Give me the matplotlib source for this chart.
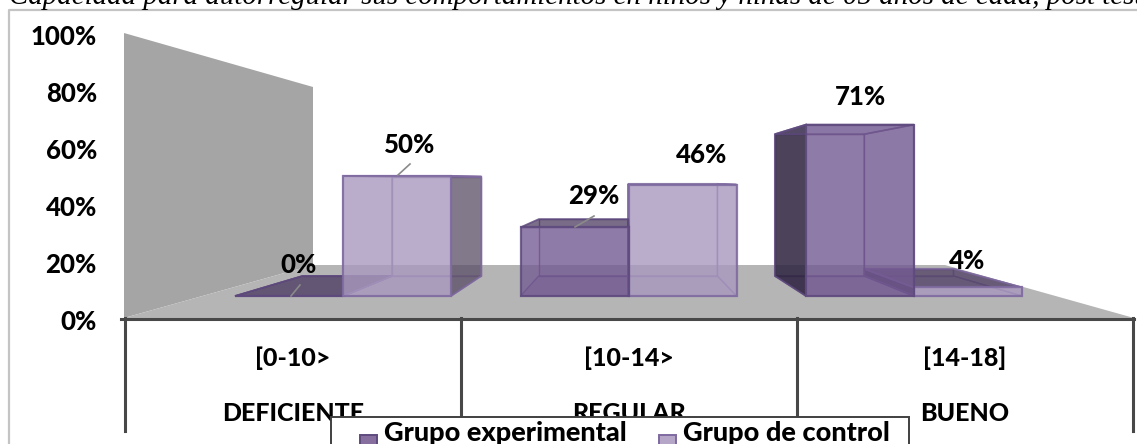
import matplotlib
matplotlib.use('Agg')
import matplotlib.pyplot as plt
from matplotlib.colors import to_rgba
from matplotlib.patches import Polygon, Rectangle

categories = ['[0-10>', '[10-14>', '[14-18]']
levels = ['DEFICIENTE', 'REGULAR', 'BUENO']
experimental = [0, 28.6, 71.4]
control = [50, 46.4, 3.6]
y_ticks = [0, 20, 40, 60, 80, 100]
series_names = ['Grupo experimental', 'Grupo de control']

FONT = 'Lato'
EXP_COLOR = '#735a92'
CTRL_COLOR = '#a999be'
EDGE_EXP = '#5f4a7e'
EDGE_CTRL = '#7f6aa0'

# perspective of the 3d box, in pixels
EYE_X, EYE_Y = 626, 180
DEPTH = 0.173
FLOOR_Y = 296
PX_PER_PCT = 2.4
BAR_W = 108
GROUP_X = [343, 628.5, 914]


def back(x, y):
    return x + DEPTH * (EYE_X - x), y + DEPTH * (EYE_Y - y)


def face(ax, pts, color, alpha, edge, z, lw=1.3):
    ax.add_patch(Polygon(pts, closed=True, facecolor=to_rgba(color, alpha),
                         edgecolor=to_rgba(edge, 0.85), linewidth=lw, zorder=z))


def draw_box(ax, x0, x1, value, color, edge, z):
    top = FLOOR_Y - value * PX_PER_PCT
    fl, fr = (x0, FLOOR_Y), (x1, FLOOR_Y)
    tl, tr = (x0, top), (x1, top)
    bl, br = back(*fl), back(*fr)
    btl, btr = back(*tl), back(*tr)
    # floor and back first, the front goes over them
    face(ax, [fl, fr, br, bl], color, 0.3, edge, z, 1.0)
    face(ax, [bl, br, btr, btl], color, 0.08, edge, z, 1.0)
    # side faces: the one away from the eye comes out dark
    if x1 < EYE_X:
        face(ax, [fr, br, btr, tr], '#5a4f66', 0.75, edge, z)
    if x0 > EYE_X:
        face(ax, [fl, bl, btl, tl], '#2e2440', 0.85, edge, z)
    if x0 < EYE_X < x1 or x0 >= EYE_X:
        face(ax, [fr, br, btr, tr], color, 0.15, edge, z, 1.0)
    if x1 <= EYE_X:
        face(ax, [fl, bl, btl, tl], color, 0.08, edge, z, 1.0)
    face(ax, [tl, tr, btr, btl], '#4f3f63' if value < 40 else color,
         0.75 if value < 40 else 0.2, edge, z)
    face(ax, [fl, fr, tr, tl], color, 0.78, edge, z + 0.5, 1.6)


fig = plt.figure(figsize=(11.37, 4.44), dpi=100)
ax = fig.add_axes([0, 0, 1, 1])
ax.set_xlim(0, 1137)
ax.set_ylim(444, 0)
ax.axis('off')

# chart border
ax.plot([1137, 8.5, 8.5], [10.5, 10.5, 444], color='#c4c4c4', lw=1.6, zorder=1)

# wall and floor
ax.add_patch(Polygon([(124, 33), (313, 87), (313, 265), (124, 318)],
                     facecolor='#a5a5a5', edgecolor='none', zorder=1))
ax.add_patch(Polygon([(124, 318), (313, 265), (945, 265), (1134, 318)],
                     facecolor='#b5b5b5', edgecolor='none', zorder=1))

# axis and category dividers
ax.plot([121, 1134], [318.5, 318.5], color='#484848', lw=2.2, zorder=3)
for x in [125, 461, 797, 1133]:
    ax.plot([x, x], [318, 431], color='#484848', lw=2.2, zorder=3)

for v in y_ticks:
    ax.text(97, 322 - v * 2.85, f'{v}%', ha='right', va='center', family=FONT,
            fontweight='black', fontsize=18.5, color='black', zorder=5)

for i in range(len(categories)):
    gx = GROUP_X[i]
    if gx < EYE_X:
        order = [(control, CTRL_COLOR, EDGE_CTRL, gx, 1), (experimental, EXP_COLOR, EDGE_EXP, gx - BAR_W, 0)]
    else:
        order = [(control, CTRL_COLOR, EDGE_CTRL, gx, 0), (experimental, EXP_COLOR, EDGE_EXP, gx - BAR_W, 1)]
    for vals, col, edge, x0, z in order:
        draw_box(ax, x0, x0 + BAR_W, vals[i], col, edge, 4 + 2 * i + z)
    cx = 293 + i * 336
    ax.text(cx, 358, categories[i], ha='center', va='center', family=FONT,
            fontweight='black', fontsize=18, color='black', zorder=5)
    ax.text(cx, 413, levels[i], ha='center', va='center', family=FONT,
            fontweight='black', fontsize=18, color='black', zorder=5)

# data labels
label_x = [[299, 594, 860], [410, 702, 967]]
label_y = [[265, 196, 97], [145, 155, 261]]
for s, vals in enumerate([experimental, control]):
    for i, v in enumerate(vals):
        ax.text(label_x[s][i], label_y[s][i], f'{v:.0f}%', ha='center', va='center',
                family=FONT, fontweight='black', fontsize=18.5, color='black', zorder=20)

# leader lines
for xs, ys in [([291, 300], [296, 285]), ([398, 410], [175, 164]), ([575, 594], [227, 216])]:
    ax.plot(xs, ys, color='#8a8a8a', lw=1.2, zorder=19)

# legend, cut by the bottom of the picture
ax.add_patch(Rectangle((331, 417), 578, 40, facecolor='white', edgecolor='#404040',
                       lw=1.4, zorder=30))
for x, name, col, edge in [(360, series_names[0], '#866f9e', EDGE_EXP),
                           (659, series_names[1], '#b5a6c8', EDGE_CTRL)]:
    ax.add_patch(Rectangle((x, 435), 17, 20, facecolor=col, edgecolor=edge, lw=1.4, zorder=31))
    ax.text(x + 24, 433, name, ha='left', va='center', family=FONT, fontweight='black',
            fontsize=19.5, color='black', zorder=31)

ax.text(9, 4, 'Capacidad para autorregular sus comportamientos en niños y niñas de 05 años de edad, post test',
        ha='left', va='baseline', family='Liberation Serif', style='italic', fontsize=20.8,
        color='black', zorder=40)

fig.savefig('out.png', dpi=100)
